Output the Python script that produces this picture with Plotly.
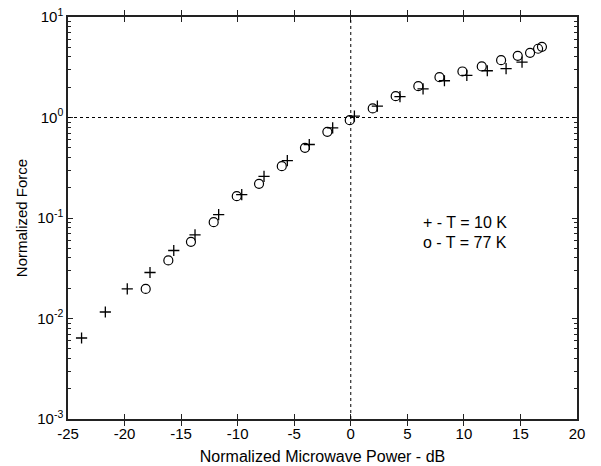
import plotly.graph_objects as go

# T = 10 K  (+ markers)
x_10k = [-23.8, -21.7, -19.76, -17.75, -15.65, -13.77, -11.68, -9.64, -7.67, -5.61, -3.67, -1.6, 0.32,
         2.35, 4.35, 6.39, 8.28, 10.26, 12.07, 13.73, 15.14]
y_10k = [0.0064, 0.0116, 0.0197, 0.0287, 0.0475, 0.068, 0.108, 0.171, 0.259, 0.373, 0.539, 0.79, 1.03,
         1.30, 1.61, 1.93, 2.32, 2.62, 2.92, 3.07, 3.55]

# T = 77 K  (o markers)
x_77k = [-18.13, -16.13, -14.13, -12.12, -10.08, -8.11, -6.1, -4.05, -2.07, -0.09,
         1.94, 3.97, 5.97, 7.84, 9.87, 11.58, 13.29, 14.76, 15.85, 16.56, 16.9]
y_77k = [0.0197, 0.0378, 0.058, 0.0908, 0.165, 0.219, 0.328, 0.499, 0.72, 0.94,
         1.23, 1.63, 2.05, 2.52, 2.87, 3.22, 3.72, 4.11, 4.4, 4.83, 5.05]

x_ticks = [-25, -20, -15, -10, -5, 0, 5, 10, 15, 20]
x_tick_text = ["-25", "-20", "-15", "-10", "-5", "0", "5", "10", "15", "20"]
y_ticks = [1e-3, 1e-2, 1e-1, 1e0, 1e1]
y_tick_text = ["10<sup>-3</sup>", "10<sup>-2</sup>", "10<sup>-1</sup>", "10<sup>0</sup>", "10<sup>1</sup>"]
y_minor = [m * 10 ** e for e in (-3, -2, -1, 0) for m in range(2, 10)]

legend_lines = ["+ - T = 10 K", "o - T = 77 K"]

FONT = "Liberation Sans, Arial, sans-serif"
INK = "#222"

fig = go.Figure()
fig.add_trace(go.Scatter(x=x_10k, y=y_10k, mode="markers",
                         marker=dict(symbol="cross-thin", size=8, line=dict(color="black", width=1.3)),
                         showlegend=False))
fig.add_trace(go.Scatter(x=x_77k, y=y_77k, mode="markers",
                         marker=dict(symbol="circle-open", size=9, color="black", line=dict(width=1.2)),
                         showlegend=False))
# invisible trace for minor-tick axis
fig.add_trace(go.Scatter(x=[None], y=[None], yaxis="y2", showlegend=False))

fig.add_shape(type="line", xref="x", yref="paper", x0=0, x1=0, y0=0, y1=1,
              line=dict(color="black", width=1, dash="dot"))
fig.add_shape(type="line", xref="paper", yref="y", x0=0, x1=1, y0=1, y1=1,
              line=dict(color="black", width=1, dash="dot"))

fig.add_annotation(x=0.6935, y=0.490, xref="paper", yref="paper", xanchor="left", yanchor="middle",
                   text=legend_lines[0], showarrow=False, font=dict(family=FONT, size=16, color="black"))
fig.add_annotation(x=0.6935, y=0.440, xref="paper", yref="paper", xanchor="left", yanchor="middle",
                   text=legend_lines[1], showarrow=False, font=dict(family=FONT, size=16, color="black"))

fig.update_layout(
    width=601, height=466,
    margin=dict(l=68, r=24, t=17, b=47),
    paper_bgcolor="white", plot_bgcolor="white",
    font=dict(family=FONT, size=15, color="black"),
    xaxis=dict(range=[-25, 20], tickvals=x_ticks, ticktext=x_tick_text, ticks="inside", ticklen=5,
               tickwidth=1, tickcolor=INK, mirror="allticks", showline=True, linecolor=INK,
               linewidth=1.5, showgrid=False, zeroline=False, automargin=False,
               tickfont=dict(size=15),
               title=dict(text="Normalized Microwave Power - dB", standoff=10, font=dict(size=16))),
    yaxis=dict(type="log", range=[-3, 1], tickvals=y_ticks, ticktext=y_tick_text, ticks="inside",
               ticklen=5, tickwidth=1, tickcolor=INK, mirror="allticks", showline=True,
               linecolor=INK, linewidth=1.5, showgrid=False, zeroline=False, automargin=False,
               tickfont=dict(size=15),
               title=dict(text="Normalized Force", standoff=6, font=dict(size=15))),
    yaxis2=dict(type="log", range=[-3, 1], overlaying="y", tickvals=y_minor, ticks="inside",
                ticklen=3, tickwidth=1, tickcolor=INK, showticklabels=False, showgrid=False,
                zeroline=False, showline=False, mirror="allticks", side="left", automargin=False),
)

fig.write_html("out.html", config={"displayModeBar": False},
               post_script="document.body.style.margin='0';")
